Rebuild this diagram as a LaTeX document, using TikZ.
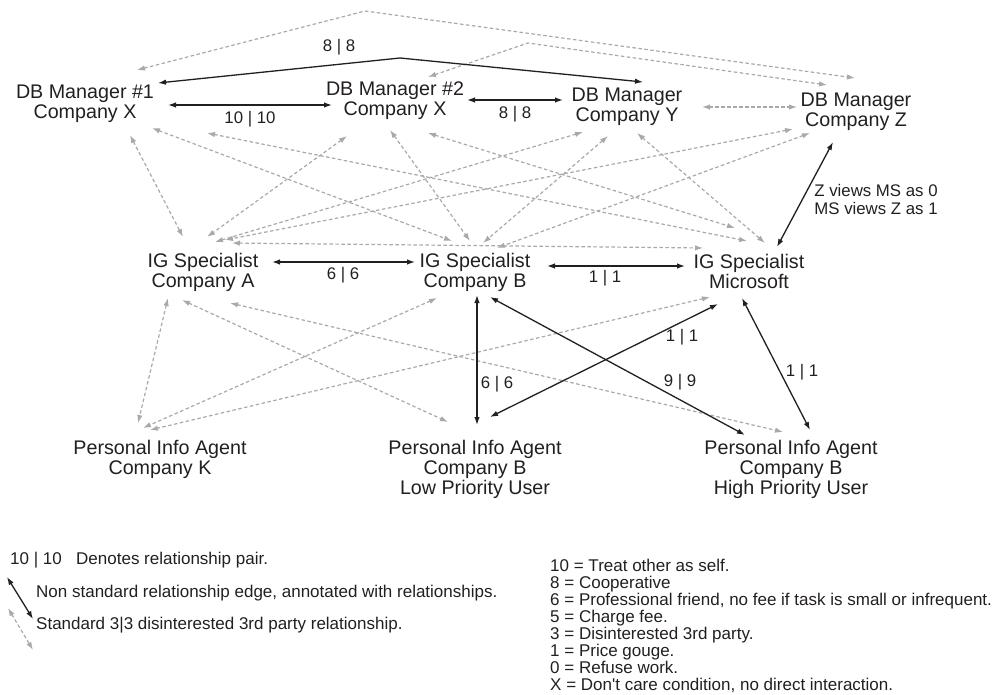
\documentclass[tikz,border=0pt]{standalone}
\usepackage{fontspec}
\setmainfont{Liberation Sans}
\usetikzlibrary{arrows.meta,calc}

\definecolor{ink}{RGB}{35,31,32}
\definecolor{dashgray}{RGB}{168,169,173}

\begin{document}
\begin{tikzpicture}[x=1pt,y=-1pt,
  agent/.style={align=center,inner sep=0pt,font=\fontsize{19.7}{20}\selectfont,text=ink},
  tips/.style={arrows={Latex[length=8pt,width=5.5pt]-Latex[length=8pt,width=5.5pt]}},
  rel/.style={draw=ink,line width=1.3pt,tips},
  std/.style={draw=dashgray,line width=1.2pt,dash pattern=on 3.5pt off 2.5pt,tips},
  pair/.style={inner sep=0pt,font=\fontsize{16.8}{18}\selectfont,text=ink},
  note/.style={inner sep=0pt,anchor=west,font=\fontsize{17}{17}\selectfont,text=ink}]

\useasboundingbox (0,0) rectangle (995,694);

% agents
\node[agent] (dbone)   at (85,104)  {DB Manager \#1\\Company X};
\node[agent] (dbtwo)   at (395,101) {DB Manager \#2\\Company X};
\node[agent] (dby)     at (627,107) {DB Manager\\Company Y};
\node[agent] (dbz)     at (856,112) {DB Manager\\Company Z};
\node[agent] (iga)     at (203,272) {IG Specialist\\Company A};
\node[agent] (igb)     at (475,272) {IG Specialist\\Company B};
\node[agent] (igms)    at (749,271) {IG Specialist\\Microsoft};
\node[agent] (piak)    at (160,459) {Personal Info Agent\\Company K};
\node[agent] (pialow)  at (475,469) {Personal Info Agent\\Company B\\Low Priority User};
\node[agent] (piahigh) at (791,469) {Personal Info Agent\\Company B\\High Priority User};

% bends of the long edges over the top
\coordinate (bendA) at (365,11);
\coordinate (bendB) at (528,43);
\coordinate (bendC) at (400,58);

% standard 3|3 edges
\draw[std] ($(dbone)+(52,-34)$) -- (bendA) -- ($(dbz)+(-1,-34)$);
\draw[std] ($(dbtwo)+(33,-24)$) -- (bendB) -- ($(dbz)+(-29,-27)$);
\draw[std] ($(dby)+(75,0)$) -- ($(dbz)+(-59,-5)$);

\draw[std] ($(dbone)+(45,31)$) -- ($(iga)+(-20,-35)$);
\draw[std] ($(dbone)+(67,24)$) -- ($(igb)+(-23,-31)$);
\draw[std] ($(dbone)+(122,29)$) -- ($(igms)+(-2,-30)$);
\draw[std] ($(dbtwo)+(-48,35)$) -- ($(iga)+(4,-35)$);
\draw[std] ($(dbtwo)+(-5,29)$) -- ($(igb)+(-5,-31)$);
\draw[std] ($(dbtwo)+(33,32)$) -- ($(igms)+(-14,-43)$);
\draw[std] ($(dby)+(-44,25)$) -- ($(iga)+(12,-30)$);
\draw[std] ($(dby)+(-19,29)$) -- ($(igb)+(8,-29)$);
\draw[std] ($(dby)+(10,26)$) -- ($(igms)+(16,-28)$);
\draw[std] ($(dbz)+(-63,17)$) -- ($(iga)+(22,-32)$);
\draw[std] ($(dbz)+(-46,21)$) -- ($(igb)+(22,-24)$);
\draw[std] ($(iga)+(29,-29)$) -- ($(igms)+(-46,-23)$);

\draw[std] ($(iga)+(-35,26)$) -- ($(piak)+(-22,-36)$);
\draw[std] ($(igb)+(-38,26)$) -- ($(piak)+(-17,-31)$);
\draw[std] ($(igms)+(-39,26)$) -- ($(piak)+(-10,-29)$);
\draw[std] ($(iga)+(-21,28)$) -- ($(pialow)+(-27,-47)$);
\draw[std] ($(iga)+(27,31)$) -- ($(piahigh)+(-8,-37)$);

% annotated edges
\draw[rel] ($(dbone)+(83,1)$) -- node[pair,below=6pt] {10 | 10} ($(dbtwo)+(-63,4)$);
\draw[rel] ($(dbtwo)+(72,-1)$) -- node[pair,below=6pt] {8 | 8} ($(dby)+(-64,-7)$);
\draw[rel] ($(dbone)+(73,-21)$) -- (bendC) -- ($(dby)+(16,-25)$);
\node[pair] (lblDB) at (339,47) {8 | 8};
\draw[rel] ($(dbz)+(-23,30)$) -- ($(igms)+(28,-24)$);
\node[pair,align=left] (lblZ) at (876,199) {Z views MS as 0\\MS views Z as 1};

\draw[rel] ($(iga)+(69,-10)$) -- ($(igb)+(-60,-10)$);
\node[pair] (lblAB) at (343,275) {6 | 6};
\draw[rel] ($(igb)+(72,-6)$) -- ($(igms)+(-64,-5)$);
\node[pair] (lblBM) at (605,278) {1 | 1};
\draw[rel] ($(igb)+(2,23)$) -- ($(pialow)+(2,-44)$);
\node[pair] (lblBL) at (497,384) {6 | 6};
\draw[rel] ($(igb)+(15,25)$) -- ($(piahigh)+(-46,-34)$);
\node[pair] (lblBH) at (680,382) {9 | 9};
\draw[rel] ($(igms)+(-31,33)$) -- ($(pialow)+(15,-52)$);
\node[pair] (lblML) at (682,337) {1 | 1};
\draw[rel] ($(igms)+(-7,27)$) -- ($(piahigh)+(19,-39)$);
\node[pair] (lblMH) at (802,372) {1 | 1};

% key
\node[note] (keypair) at (10,560) {10 | 10};
\node[note] (keypairtext) at (76,560) {Denotes relationship pair.};
\node[note] (keyrel) at (36,593) {Non standard relationship edge, annotated with relationships.};
\node[note] (keystd) at (36,625) {Standard 3|3 disinterested 3rd party relationship.};
\coordinate (relA) at (7,577);
\coordinate (relB) at (33,619);
\coordinate (stdA) at (8,608);
\coordinate (stdB) at (33,650);
\draw[rel] (relA) -- (relB);
\draw[std] (stdA) -- (stdB);

\node[note,align=left,font=\fontsize{17}{16.9}\selectfont] (scale) at (550,626) {10 = Treat other as self.\\
8 = Cooperative\\
6 = Professional friend, no fee if task is small or infrequent.\\
5 = Charge fee.\\
3 = Disinterested 3rd party.\\
1 = Price gouge.\\
0 = Refuse work.\\
X = Don\textquotesingle t care condition, no direct interaction.};
\end{tikzpicture}
\end{document}
